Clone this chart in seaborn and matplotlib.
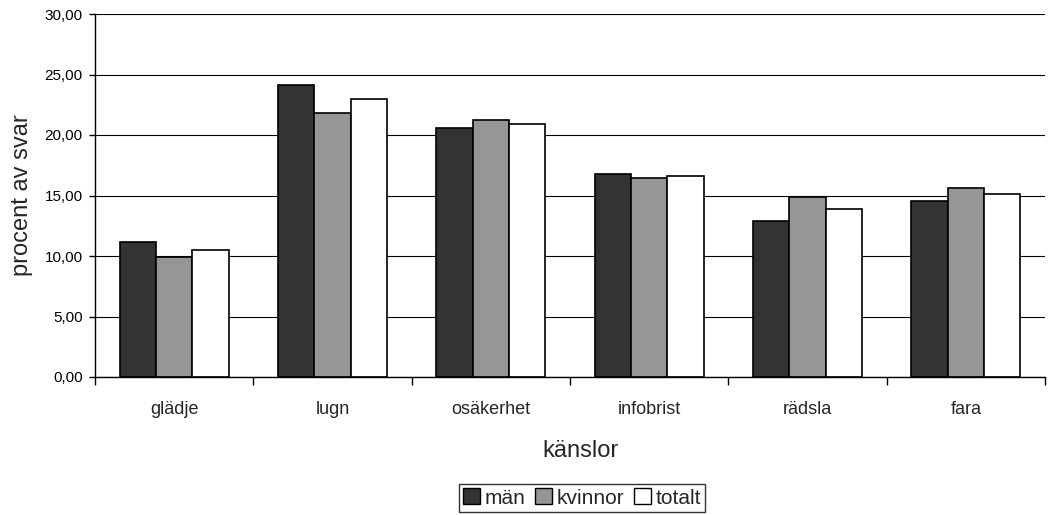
import matplotlib
matplotlib.use("Agg")
import matplotlib.pyplot as plt
import matplotlib.ticker as mticker
from matplotlib.patches import Patch
import pandas as pd
import seaborn as sns

# Data
kanslor = ["glädje", "lugn", "osäkerhet", "infobrist", "rädsla", "fara"]
man = [11.16, 24.13, 20.58, 16.77, 12.92, 14.51]
kvinnor = [9.95, 21.85, 21.22, 16.44, 14.84, 15.64]
totalt = [10.53, 22.95, 20.94, 16.60, 13.88, 15.09]
grupper = ["män", "kvinnor", "totalt"]
farger = ["#333333", "#969696", "#ffffff"]

df = pd.DataFrame({
    "känsla": kanslor * 3,
    "procent": man + kvinnor + totalt,
    "grupp": [g for g in grupper for _ in kanslor],
})

sns.set_style("white")
plt.rcParams["font.family"] = ["Liberation Sans", "DejaVu Sans"]

fig = plt.figure(figsize=(10.62, 5.15), dpi=100)
ax = fig.add_axes([95 / 1062, 1 - 377 / 515, 950 / 1062, 363 / 515])

sns.barplot(data=df, x="känsla", y="procent", hue="grupp", hue_order=grupper,
            palette=farger, width=0.69, gap=0, edgecolor="black", linewidth=1.2,
            legend=False, ax=ax)

ax.set_ylim(0, 30)
ax.set_xlim(-0.5, 5.5)
ax.set_yticks(range(0, 31, 5))
ax.yaxis.set_major_formatter(mticker.FuncFormatter(lambda v, p: f"{v:.2f}".replace(".", ",")))
ax.yaxis.grid(True, color="black", linewidth=0.8)
ax.set_axisbelow(True)

for side in ["top", "right"]:
    ax.spines[side].set_visible(False)
for side in ["left", "bottom"]:
    ax.spines[side].set_color("black")
    ax.spines[side].set_linewidth(1.0)

ax.tick_params(axis="y", left=True, length=4, width=1, pad=5, labelsize=11, colors="black")
ax.tick_params(axis="x", which="major", bottom=False, pad=14, labelsize=13)
ax.set_xticks([i + 0.5 for i in range(-1, 6)], minor=True)
ax.tick_params(axis="x", which="minor", bottom=True, length=6, width=1, color="black")

ax.set_xlabel("känslor", fontsize=17, va="center")
ax.xaxis.set_label_coords((581 - 95) / 950, (377 - 451) / 363)
ax.set_ylabel("procent av svar", fontsize=17, va="center")
ax.yaxis.set_label_coords((22 - 95) / 950, 0.5)

handles = [Patch(facecolor=c, edgecolor="black", linewidth=1.0) for c in farger]
fig.legend(handles, grupper, loc="center", bbox_to_anchor=(582 / 1062, 1 - 498 / 515),
           ncol=3, fontsize=15, frameon=True, fancybox=False, edgecolor="black",
           handlelength=0.8, handleheight=0.8, handletextpad=0.2, columnspacing=0.5,
           borderpad=0.2, borderaxespad=0)
fig.legends[0].get_frame().set_linewidth(1.0)

fig.savefig("out.png", dpi=100)
